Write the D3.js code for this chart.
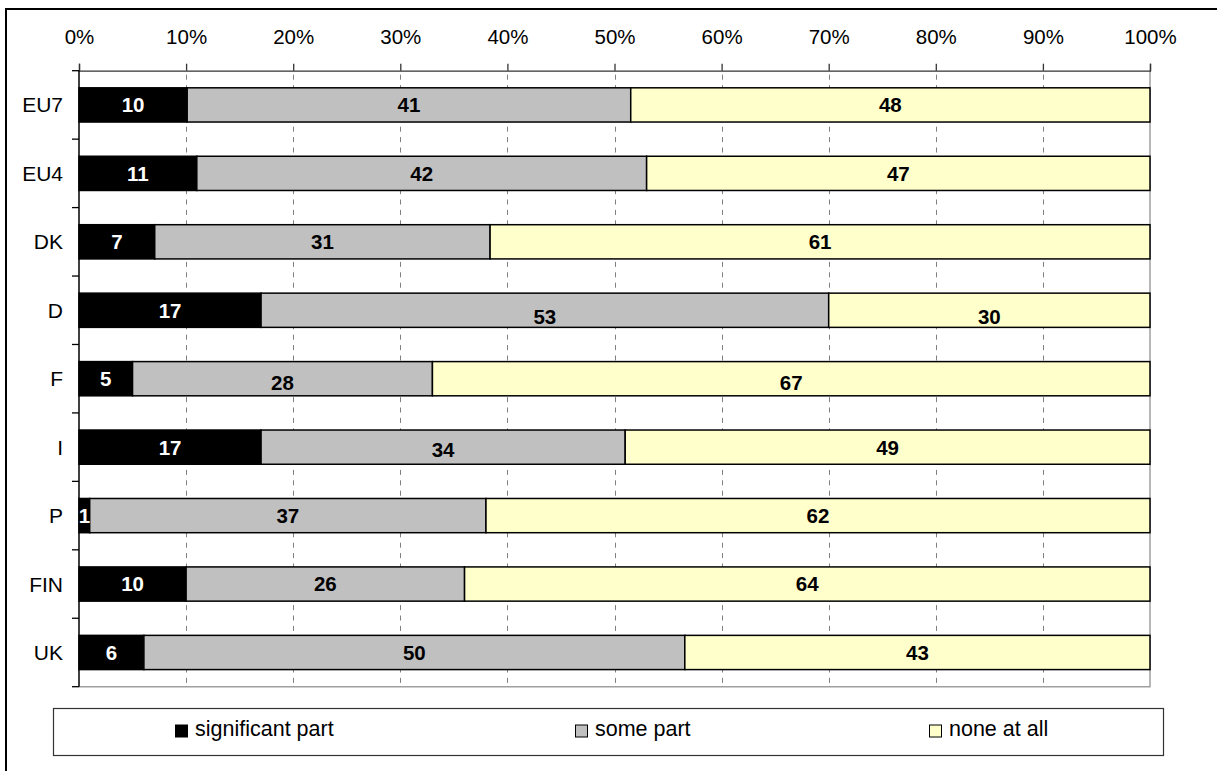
<!DOCTYPE html>
<html>
<head>
<meta charset="utf-8">
<script src="https://cdn.jsdelivr.net/npm/d3@7/dist/d3.min.js"></script>
<style>
  html, body { margin: 0; padding: 0; background: #fff; }
  svg { display: block; font-family: "Liberation Sans", Arial, sans-serif; }
</style>
</head>
<body>
<svg id="chart" width="1217" height="771"></svg>
<script>
// Share of respondents per country group (percent, as labelled)
const categories = ["EU7", "EU4", "DK", "D", "F", "I", "P", "FIN", "UK"];
const significantPart = [10, 11, 7, 17, 5, 17, 1, 10, 6];
const somePart = [41, 42, 31, 53, 28, 34, 37, 26, 50];
const noneAtAll = [48, 47, 61, 30, 67, 49, 62, 64, 43];
const seriesNames = ["significant part", "some part", "none at all"];
const seriesKeys = ["significant", "some", "none"];
const tickValues = [0, 0.1, 0.2, 0.3, 0.4, 0.5, 0.6, 0.7, 0.8, 0.9, 1];

const colors = { significant: "#000000", some: "#C0C0C0", none: "#FFFFCC" };
const labelColors = { significant: "#ffffff", some: "#000000", none: "#000000" };

const rows = categories.map((c, i) => ({
  category: c,
  significant: significantPart[i],
  some: somePart[i],
  none: noneAtAll[i]
}));

const svg = d3.select("#chart");

// outer frame
svg.append("rect")
  .attr("x", 6).attr("y", 9)
  .attr("width", 1230).attr("height", 790)
  .attr("fill", "none").attr("stroke", "#000").attr("stroke-width", 2);

const plot = { left: 79, right: 1150, top: 70.7, bottom: 686.7 };

const x = d3.scaleLinear().domain([0, 1]).range([plot.left, plot.right]);
const y = d3.scaleBand().domain(categories)
  .range([plot.top, plot.bottom])
  .paddingInner(0.5).paddingOuter(0.25);

const stacked = d3.stack().keys(seriesKeys).offset(d3.stackOffsetExpand)(rows);

// dashed vertical gridlines
svg.append("g").selectAll("line")
  .data(tickValues.filter(t => t > 0 && t < 1))
  .join("line")
  .attr("x1", d => Math.round(x(d)) + 0.5).attr("x2", d => Math.round(x(d)) + 0.5)
  .attr("y1", plot.top).attr("y2", plot.bottom)
  .attr("stroke", "#808080").attr("stroke-width", 1)
  .attr("stroke-dasharray", "5 5.4").attr("stroke-dashoffset", 6.4);

// plot area right and bottom border
svg.append("path")
  .attr("d", `M${x(1)},${plot.top}V${plot.bottom}H${plot.left}`)
  .attr("fill", "none").attr("stroke", "#a0a0a0").attr("stroke-width", 1.5);

// top axis
const xAxis = d3.axisTop(x).tickValues(tickValues).tickFormat(d3.format(".0%"))
  .tickSize(7).tickPadding(20);
const gx = svg.append("g").attr("transform", `translate(0,${plot.top})`).call(xAxis);
gx.select(".domain").attr("stroke", "#333").attr("stroke-width", 1.3);
gx.selectAll(".tick line").attr("stroke", "#333").attr("stroke-width", 1.3);
gx.selectAll(".tick text")
  .attr("font-size", 20.5).attr("font-family", "Liberation Sans, Arial, sans-serif")
  .attr("fill", "#000");

// left axis: category labels and tick marks at band boundaries
const gy = svg.append("g");
const bounds = d3.range(categories.length + 1).map(i => plot.top + i * y.step());
gy.append("line")
  .attr("x1", plot.left).attr("x2", plot.left)
  .attr("y1", plot.top).attr("y2", plot.bottom)
  .attr("stroke", "#000").attr("stroke-width", 1.5);
gy.selectAll("line.tk").data(bounds).join("line").attr("class", "tk")
  .attr("x1", plot.left - 7).attr("x2", plot.left)
  .attr("y1", d => d).attr("y2", d => d)
  .attr("stroke", "#000").attr("stroke-width", 1.3);
gy.selectAll("text").data(categories).join("text")
  .attr("x", plot.left - 16)
  .attr("y", d => y(d) + y.bandwidth() / 2)
  .attr("dy", "0.36em")
  .attr("text-anchor", "end")
  .attr("font-size", 21)
  .attr("fill", "#000")
  .text(d => d);

// stacked bars
const layers = svg.append("g").selectAll("g")
  .data(stacked).join("g")
  .attr("fill", d => colors[d.key]);

layers.selectAll("rect")
  .data(d => d.map(v => ({ key: d.key, v })))
  .join("rect")
  .attr("x", d => x(d.v[0]))
  .attr("y", d => y(d.v.data.category))
  .attr("width", d => x(d.v[1]) - x(d.v[0]))
  .attr("height", y.bandwidth())
  .attr("stroke", "#000").attr("stroke-width", 1.5);

// value labels, a few nudged down as placed in the original layout
const labelNudge = { "D|some": 6, "D|none": 6, "F|some": 4, "F|none": 4, "I|some": 2 };
svg.append("g").selectAll("g")
  .data(stacked).join("g")
  .selectAll("text")
  .data(d => d.map(v => ({ key: d.key, v })))
  .join("text")
  .attr("x", d => (x(d.v[0]) + x(d.v[1])) / 2)
  .attr("y", d => y(d.v.data.category) + y.bandwidth() / 2 + (labelNudge[d.v.data.category + "|" + d.key] || 0))
  .attr("dy", "0.36em")
  .attr("text-anchor", "middle")
  .attr("font-size", 20.5)
  .attr("font-weight", "bold")
  .attr("fill", d => labelColors[d.key])
  .text(d => d.v.data[d.key]);

// legend
const legend = svg.append("g");
legend.append("rect")
  .attr("x", 53.5).attr("y", 708.5).attr("width", 1110).attr("height", 47)
  .attr("fill", "#fff").attr("stroke", "#333").attr("stroke-width", 1.2);

const legendX = [175, 575, 929];
const items = legend.selectAll("g.item").data(seriesKeys).join("g").attr("class", "item")
  .attr("transform", (d, i) => `translate(${legendX[i]},0)`);
items.append("rect")
  .attr("x", 0.5).attr("y", 725).attr("width", 12).attr("height", 12)
  .attr("fill", d => colors[d]).attr("stroke", "#000").attr("stroke-width", 1);
items.append("text")
  .attr("x", 20).attr("y", 735.5)
  .attr("font-size", 21.5)
  .attr("fill", "#000")
  .text((d, i) => seriesNames[i]);
</script>
</body>
</html>
